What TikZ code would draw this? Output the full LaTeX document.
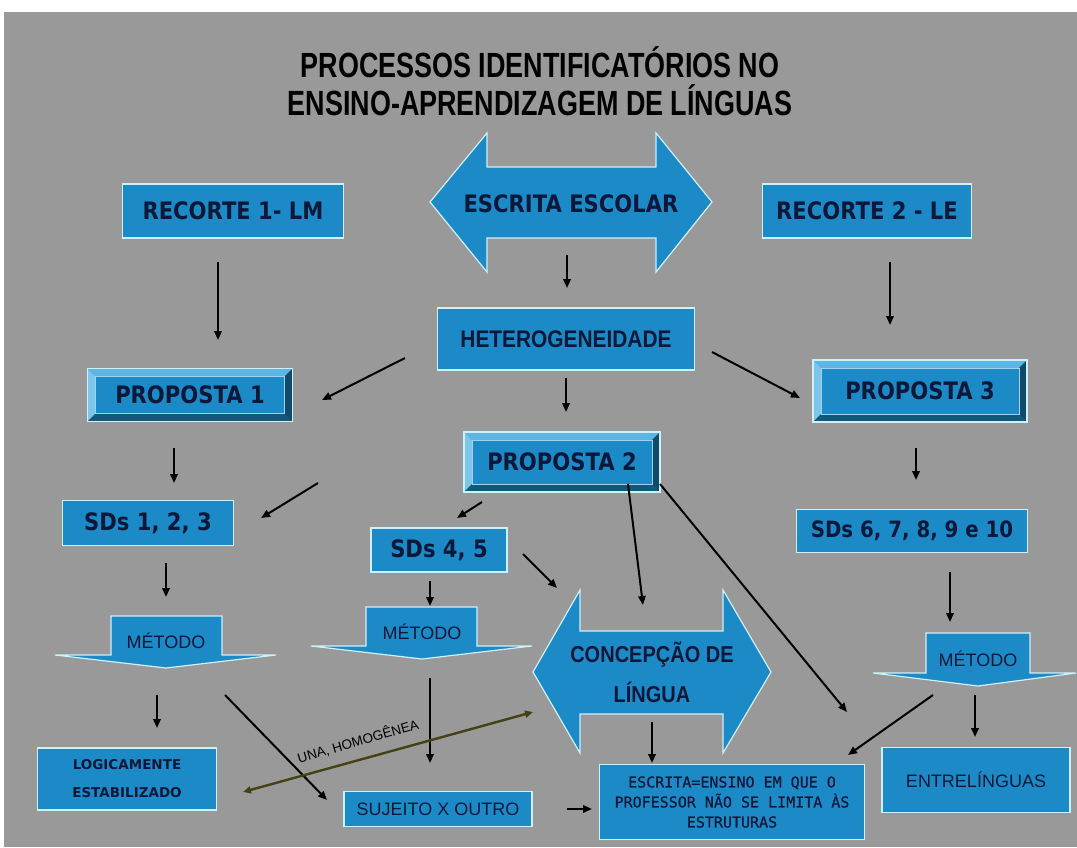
\documentclass[tikz,border=0pt]{standalone}
\usepackage{fontspec}
\usetikzlibrary{calc,arrows.meta}
\newfontfamily\ttlfont[FakeStretch=0.77]{Liberation Sans}
\newfontfamily\narfont[FakeStretch=0.87]{Liberation Sans}
\newfontfamily\arfont{Liberation Sans}
\newfontfamily\vfont[FakeStretch=0.88]{DejaVu Sans}
\newfontfamily\vnfont{DejaVu Sans}
\newfontfamily\mofont[FakeBold=0.6]{DejaVu Sans Mono}
\definecolor{bg}{RGB}{153,153,153}
\definecolor{boxblue}{RGB}{28,138,198}
\definecolor{edgec}{RGB}{205,240,250}
\definecolor{navy}{RGB}{12,24,58}
\definecolor{bevl}{RGB}{92,182,228}
\definecolor{bevd}{RGB}{18,88,122}
\definecolor{olivec}{RGB}{68,66,20}
\begin{document}
\begin{tikzpicture}[x=1pt,y=-1pt,
  box/.style={rectangle, fill=boxblue, draw=edgec, line width=1.2pt, inner sep=0pt, text=navy, align=center},
  bbox/.style={box, font=\vfont\bfseries\fontsize{24}{28}\selectfont},
  pbox/.style={bbox, path picture={
    \path (path picture bounding box.north west) coordinate (bNW)
          (path picture bounding box.north east) coordinate (bNE)
          (path picture bounding box.south west) coordinate (bSW)
          (path picture bounding box.south east) coordinate (bSE);
    \fill[bevl] (bNW) -- (bNE) -- ($(bNE)+(-8,8)$) -- ($(bNW)+(8,8)$) -- cycle;
    \fill[bevl!80!white] (bNW) -- ($(bNW)+(8,8)$) -- ($(bSW)+(8,-8)$) -- (bSW) -- cycle;
    \fill[bevd] (bSW) -- (bSE) -- ($(bSE)+(-8,-8)$) -- ($(bSW)+(8,-8)$) -- cycle;
    \fill[bevd!85!black] (bNE) -- (bSE) -- ($(bSE)+(-8,-8)$) -- ($(bNE)+(-8,8)$) -- cycle;
    \draw[bevl!60!white, line width=0.8pt] ($(bNW)+(8,8)$) rectangle ($(bSE)+(-8,-8)$);
  }},
  rbox/.style={box, font=\arfont\fontsize{18}{22}\selectfont},
  shp/.style={fill=boxblue, draw=edgec, line width=1.2pt, line join=miter},
  lbl/.style={text=navy, align=center, inner sep=0pt},
  arr/.style={line width=2pt, -{Triangle[length=9pt,width=7.5pt]}},
  oarr/.style={draw=olivec, line width=2.4pt, {Triangle[length=8pt,width=7pt]}-{Triangle[length=8pt,width=7pt]}},
]
\useasboundingbox (0,0) rectangle (1077,847);
\fill[white] (0,0) rectangle (1077,847);
\fill[bg] (4,12) rectangle (1077,847);

% title
\node[align=center, inner sep=0pt, font=\ttlfont\bfseries\fontsize{35}{38}\selectfont] (title) at (540,81)
  {PROCESSOS IDENTIFICATÓRIOS NO\\ENSINO-APRENDIZAGEM DE LÍNGUAS};

% big shapes
\draw[shp] (430,202) -- (487,133) -- (487,167) -- (656,167) -- (656,133) -- (712,202)
  -- (656,272) -- (656,238) -- (487,238) -- (487,272) -- cycle;
\node[lbl, font=\vfont\bfseries\fontsize{24}{28}\selectfont] (esc) at (571,204) {ESCRITA ESCOLAR};

\draw[shp] (533,672) -- (580,590) -- (580,631) -- (723,631) -- (723,590) -- (771,672)
  -- (723,753) -- (723,714) -- (580,714) -- (580,753) -- cycle;
\node[lbl, font=\narfont\bfseries\fontsize{23}{40}\selectfont] (conc) at (652,672) {CONCEPÇÃO DE\\LÍNGUA};

\draw[shp] (111,616) -- (222,616) -- (222,655) -- (276,655) -- (166,668) -- (55,655) -- (111,655) -- cycle;
\node[lbl, font=\arfont\fontsize{18}{22}\selectfont] (m1) at (166,641) {MÉTODO};
\draw[shp] (366,607) -- (477,607) -- (477,646) -- (532,646) -- (422,659) -- (311,646) -- (366,646) -- cycle;
\node[lbl, font=\arfont\fontsize{18}{22}\selectfont] (m2) at (422,632) {MÉTODO};
\draw[shp] (926,633) -- (1030,633) -- (1030,673) -- (1076,673) -- (978,686) -- (873,673) -- (926,673) -- cycle;
\node[lbl, font=\arfont\fontsize{18}{22}\selectfont] (m3) at (978,659) {MÉTODO};

% boxes
\node[bbox, minimum width=221pt, minimum height=54pt] (rec1) at (233,211) {RECORTE 1- LM};
\node[bbox, minimum width=209pt, minimum height=54pt] (rec2) at (867,211) {RECORTE 2 - LE};
\node[box, minimum width=257pt, minimum height=62pt, font=\narfont\bfseries\fontsize{24}{26}\selectfont] (hetero) at (566,339) {HETEROGENEIDADE};
\node[pbox, minimum width=205pt, minimum height=53pt] (p1) at (190,395) {PROPOSTA 1};
\node[pbox, minimum width=196pt, minimum height=60pt] (p2) at (562,462) {PROPOSTA 2};
\node[pbox, minimum width=214pt, minimum height=62pt] (p3) at (920,391) {PROPOSTA 3};
\node[bbox, minimum width=171pt, minimum height=45pt] (sd1) at (148,523) {SDs 1, 2, 3};
\node[bbox, minimum width=136pt, minimum height=44pt] (sd2) at (439,550) {SDs 4, 5};
\node[bbox, minimum width=231pt, minimum height=43pt, font=\vfont\bfseries\fontsize{22.5}{26}\selectfont] (sd3) at (912,531) {SDs 6, 7, 8, 9 e 10};
\node[box, minimum width=179pt, minimum height=62pt, font=\vnfont\bfseries\fontsize{13.5}{28}\selectfont] (logic) at (127,779) {LOGICAMENTE\\ESTABILIZADO};
\node[rbox, minimum width=188pt, minimum height=35pt] (suj) at (438,809) {SUJEITO X OUTRO};
\node[box, minimum width=265pt, minimum height=75pt, font=\mofont\fontsize{15}{20}\selectfont] (escb) at (732,802) {ESCRITA=ENSINO EM QUE O\\PROFESSOR NÃO SE LIMITA ÀS\\ESTRUTURAS};
\node[rbox, minimum width=188pt, minimum height=65pt] (entre) at (976,780) {ENTRELÍNGUAS};

% connectors
\draw[arr] ($(rec1)+(-15,51)$) -- ($(p1)+(28,-55)$);
\draw[arr] ($(esc)+(-4,51)$) -- ($(hetero)+(1,-51)$);
\draw[arr] ($(rec2)+(23,51)$) -- ($(p3)+(-30,-66)$);
\draw[arr] ($(hetero)+(-161,19)$) -- ($(p1)+(132,5)$);
\draw[arr] ($(hetero)+(146,13)$) -- ($(p3)+(-120,7)$);
\draw[arr] ($(hetero)+(0,39)$) -- ($(p2)+(4,-50)$);
\draw[arr] ($(p1)+(-16,53)$) -- ($(sd1)+(26,-40)$);
\draw[arr] ($(p2)+(-244,21)$) -- ($(sd1)+(113,-5)$);
\draw[arr] ($(p3)+(-4,57)$) -- ($(sd3)+(4,-51)$);
\draw[arr] ($(p2)+(-80,40)$) -- ($(sd2)+(18,-32)$);
\draw[arr] ($(p2)+(66,22)$) -- ($(conc)+(-9,-67)$);
\draw[arr] ($(p2)+(98,22)$) -- ($(escb)+(115,-90)$);
\draw[arr] ($(sd2)+(84,4)$) -- ($(conc)+(-95,-84)$);
\draw[arr] ($(sd1)+(18,40)$) -- ($(m1)+(0,-44)$);
\draw[arr] ($(sd2)+(-9,31)$) -- ($(m2)+(8,-26)$);
\draw[arr] ($(sd3)+(38,41)$) -- ($(m3)+(-28,-37)$);
\draw[arr] ($(m1)+(-9,54)$) -- ($(logic)+(30,-51)$);
\draw[arr] ($(m1)+(59,54)$) -- ($(suj)+(-111,-9)$);
\draw[arr] ($(m2)+(8,46)$) -- ($(suj)+(-8,-46)$);
\draw[oarr] ($(logic)+(116,13)$) -- ($(conc)+(-119,40)$);
\node[inner sep=0pt, rotate=16, font=\arfont\fontsize{13.5}{16}\selectfont] (una) at (358,741) {UNA, HOMOGÊNEA};
\draw[arr] ($(suj)+(129,0)$) -- ($(escb)+(-140,7)$);
\draw[arr] ($(conc)+(0,50)$) -- ($(escb)+(-80,-39)$);
\draw[arr] ($(m3)+(-45,36)$) -- ($(escb)+(116,-47)$);
\draw[arr] ($(m3)+(-3,36)$) -- ($(entre)+(-1,-43)$);
\end{tikzpicture}
\end{document}
